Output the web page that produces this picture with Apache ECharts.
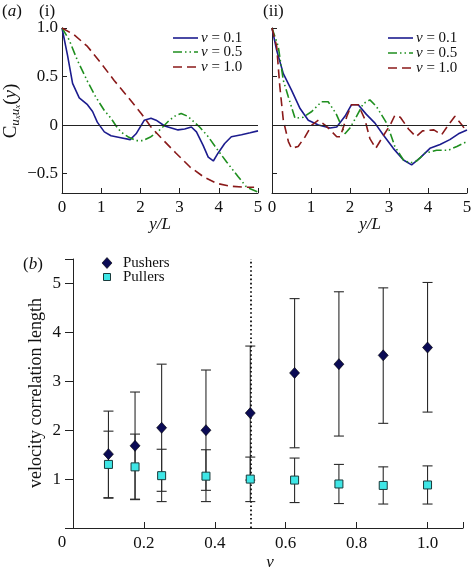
<!DOCTYPE html>
<html><head><meta charset="utf-8">
<script src="https://cdn.jsdelivr.net/npm/echarts@6/dist/echarts.min.js"></script>
<style>html,body{margin:0;padding:0;background:#fff}#c{width:473px;height:577px}</style>
</head><body><div id="c"></div>
<script>
// ---------- Data ----------
// Panel (a)(i): pushers correlation functions C(y) vs y/L
const i_v01 = [[0,1.0],[0.14,0.72],[0.27,0.43],[0.44,0.28],[0.65,0.21],[0.78,0.14],[0.9,0.03],[1.08,-0.07],[1.25,-0.11],[1.5,-0.13],[1.74,-0.15],[1.89,-0.09],[2.1,0.05],[2.27,0.07],[2.4,0.05],[2.62,-0.01],[2.96,-0.05],[3.13,-0.04],[3.3,-0.02],[3.43,-0.07],[3.6,-0.21],[3.73,-0.33],[3.86,-0.37],[3.98,-0.29],[4.15,-0.19],[4.32,-0.12],[4.58,-0.1],[4.8,-0.08],[5.0,-0.06]];
const i_v05 = [[0,1.0],[0.18,0.88],[0.39,0.67],[0.65,0.45],[0.86,0.29],[1.08,0.15],[1.25,0.07],[1.38,-0.01],[1.5,-0.07],[1.68,-0.12],[1.89,-0.16],[2.06,-0.16],[2.27,-0.12],[2.44,-0.07],[2.57,-0.02],[2.74,0.05],[2.91,0.1],[3.04,0.12],[3.21,0.09],[3.51,-0.02],[3.73,-0.12],[3.94,-0.24],[4.2,-0.38],[4.49,-0.53],[4.71,-0.64],[5.0,-0.69]];
const i_v10 = [[0,1.0],[0.31,0.93],[0.65,0.81],[0.99,0.64],[1.33,0.46],[1.68,0.29],[2.02,0.12],[2.27,-0.02],[2.57,-0.15],[2.91,-0.29],[3.26,-0.43],[3.6,-0.53],[3.94,-0.6],[4.3,-0.63],[4.65,-0.64],[4.9,-0.64]];
// Panel (a)(ii)
const ii_v01 = [[0,1.0],[0.12,0.77],[0.29,0.53],[0.5,0.36],[0.72,0.17],[0.93,0.05],[1.19,0.0],[1.49,-0.03],[1.66,-0.02],[1.87,0.09],[2.04,0.21],[2.21,0.21],[2.42,0.11],[2.64,0.02],[2.85,-0.1],[3.11,-0.24],[3.37,-0.36],[3.58,-0.41],[3.79,-0.34],[4.05,-0.24],[4.31,-0.2],[4.56,-0.15],[4.78,-0.09],[5.0,-0.05]];
const ii_v05 = [[0,1.0],[0.16,0.81],[0.29,0.46],[0.42,0.29],[0.59,0.07],[0.8,0.08],[1.02,0.14],[1.27,0.24],[1.44,0.24],[1.64,0.12],[1.87,-0.09],[2.0,-0.03],[2.1,0.04],[2.34,0.22],[2.51,0.26],[2.68,0.19],[2.94,0.02],[3.15,-0.22],[3.37,-0.36],[3.54,-0.39],[3.71,-0.37],[3.92,-0.29],[4.22,-0.26],[4.52,-0.26],[4.74,-0.22],[5.0,-0.17]];
const ii_v10 = [[0,1.0],[0.12,0.81],[0.2,0.4],[0.29,0.05],[0.42,-0.17],[0.5,-0.24],[0.67,-0.22],[0.85,-0.12],[1.02,0.0],[1.19,0.05],[1.36,0.0],[1.49,-0.05],[1.66,-0.12],[1.75,-0.12],[1.92,0.09],[2.04,0.21],[2.21,0.21],[2.38,0.06],[2.51,-0.14],[2.66,-0.24],[2.87,-0.1],[3.03,0.0],[3.15,0.1],[3.29,0.08],[3.5,-0.04],[3.69,-0.12],[3.86,-0.06],[4.15,-0.05],[4.35,-0.1],[4.52,0.0],[4.69,0.09],[4.87,0.0],[5.0,-0.07]];
const aSeriesNames = ['0.1','0.5','1.0'];
const aYTicks = [-0.5, 0, 0.5, 1.0];
// Panel (b): velocity correlation length vs v
const vValues     = [0.1, 0.175, 0.25, 0.375, 0.5, 0.625, 0.75, 0.875, 1.0];
const pushers     = [1.51, 1.68, 2.05, 2.0, 2.35, 3.17, 3.35, 3.53, 3.69];
const pushersLow  = [0.61, 0.58, 0.75, 0.77, 0.98, 1.64, 1.88, 2.14, 2.37];
const pushersHigh = [2.39, 2.78, 3.35, 3.23, 3.72, 4.69, 4.83, 4.91, 5.02];
const pullers     = [1.3, 1.25, 1.07, 1.06, 1.0, 0.98, 0.9, 0.87, 0.88];
const pullersLow  = [0.62, 0.59, 0.54, 0.54, 0.54, 0.52, 0.5, 0.49, 0.49];
const pullersHigh = [1.98, 1.92, 1.61, 1.6, 1.45, 1.43, 1.3, 1.25, 1.27];
const vDivider = 0.5;

// ---------- Styles ----------
const SERIF = 'Liberation Serif';
const BLUE = '#1c1c8e', GREEN = '#1f8f1f', RED = '#8a1a1a';
const DASHDOT = [9,3,1.5,3,1.5,3];
const DASH = [9,5];
const AX = '#222';

const chart = echarts.init(document.getElementById('c'), null, {renderer:'canvas'});

function fmtA(v){ if (Math.abs(v) < 1e-9) return '0'; const s = Math.abs(v).toFixed(1); return (v<0?'\u2212':'') + s; }

function aYAxis(idx, showLabels){
  return {
    type:'value', gridIndex: idx, min:-0.7, max:1.0,
    axisLine:{show:true, onZero:false, lineStyle:{color:AX, width:1}},
    axisTick:{show:true, inside:true, length:5, customValues: aYTicks, lineStyle:{color:AX}},
    axisLabel:{show:showLabels, customValues: aYTicks, formatter: fmtA, fontFamily:SERIF, fontSize:17, color:'#111', margin:4},
    splitLine:{show:false}
  };
}
function aXAxis(idx){
  return {
    type:'value', gridIndex: idx, min:0, max:5, interval:1,
    axisLine:{show:true, onZero:false, lineStyle:{color:AX, width:1}},
    axisTick:{show:true, inside:true, length:5, lineStyle:{color:AX}},
    axisLabel:{fontFamily:SERIF, fontSize:17, color:'#111', margin:6},
    splitLine:{show:false}
  };
}
function lineSeries(idx, data, color, type, withZero){
  const s = {
    type:'line', xAxisIndex: idx, yAxisIndex: idx, data: data,
    symbol:'none', smooth:false, silent:true, animation:false,
    lineStyle:{color:color, width:1.6, type:type}
  };
  if (withZero){
    s.markLine = {silent:true, symbol:['none','none'], label:{show:false},
      lineStyle:{color:'#222', width:1, type:'solid'}, data:[{yAxis:0}], animation:false};
  }
  return s;
}

const errPush = vValues.map((v,i)=>[v, pushersLow[i], pushersHigh[i]]);
const errPull = vValues.map((v,i)=>[v, pullersLow[i], pullersHigh[i]]);
function errRender(params, api){
  const x = api.value(0), lo = api.value(1), hi = api.value(2);
  const pLo = api.coord([x, lo]), pHi = api.coord([x, hi]);
  const w = 5;
  const st = {stroke:'#2a2a2a', lineWidth:1.1};
  return {type:'group', children:[
    {type:'line', shape:{x1:pLo[0], y1:pLo[1], x2:pHi[0], y2:pHi[1]}, style:st},
    {type:'line', shape:{x1:pLo[0]-w, y1:pLo[1], x2:pLo[0]+w, y2:pLo[1]}, style:st},
    {type:'line', shape:{x1:pHi[0]-w, y1:pHi[1], x2:pHi[0]+w, y2:pHi[1]}, style:st}
  ]};
}

function legendA(x0, ys){
  const els = [];
  const cols = [BLUE, GREEN, RED], types = [null, DASHDOT, DASH];
  for (let k=0;k<3;k++){
    els.push({type:'line', shape:{x1:x0, y1:ys[k], x2:x0+25, y2:ys[k]},
      style:{stroke:cols[k], lineWidth:1.6, lineDash:types[k]}});
    els.push({type:'text', x:x0+28, y:ys[k], style:{
      text:'{i|v} = '+aSeriesNames[k], verticalAlign:'middle', align:'left',
      font:'15px '+SERIF, fill:'#111',
      rich:{i:{fontStyle:'italic', fontFamily:SERIF, fontSize:15, fill:'#111'}}}});
  }
  return els;
}

const graphics = [
  {type:'text', x:2, y:12, style:{text:'({i|a})', font:'17px '+SERIF, fill:'#111', verticalAlign:'middle', rich:{i:{fontStyle:'italic', fontSize:17, fontFamily:SERIF}}}},
  {type:'text', x:39, y:12, style:{text:'(i)', font:'17px '+SERIF, fill:'#111', verticalAlign:'middle'}},
  {type:'text', x:263, y:12, style:{text:'(ii)', font:'17px '+SERIF, fill:'#111', verticalAlign:'middle'}},
  // y-axis title panel a
  {type:'text', x:11, y:111, rotation:Math.PI/2, style:{
    text:'{c|C}{s|u}{ss|x}{s|u}{ss|x}{c|(}{ci|y}{c|)}', align:'center', verticalAlign:'middle',
    rich:{
      c:{fontFamily:SERIF, fontSize:19, fill:'#111'},
      ci:{fontFamily:SERIF, fontStyle:'italic', fontSize:19, fill:'#111'},
      s:{fontFamily:SERIF, fontStyle:'italic', fontSize:13, fill:'#111', verticalAlign:'bottom', padding:[8,0,0,0]},
      ss:{fontFamily:SERIF, fontStyle:'italic', fontSize:9, fill:'#111', verticalAlign:'bottom', padding:[14,0,0,0]}
    }}},
  {type:'text', x:160, y:225, style:{text:'y/L', font:'italic 17px '+SERIF, fill:'#111', align:'center', verticalAlign:'middle'}},
  {type:'text', x:370, y:225, style:{text:'y/L', font:'italic 17px '+SERIF, fill:'#111', align:'center', verticalAlign:'middle'}},
  // panel b
  {type:'text', x:23, y:265, style:{text:'({i|b})', font:'17px '+SERIF, fill:'#111', verticalAlign:'middle', rich:{i:{fontStyle:'italic', fontSize:17, fontFamily:SERIF}}}},
  {type:'text', x:36, y:393, rotation:Math.PI/2, style:{text:'velocity correlation length', font:'18px '+SERIF, fill:'#111', align:'center', verticalAlign:'middle'}},
  {type:'text', x:62, y:543, style:{text:'0', font:'17px '+SERIF, fill:'#111', align:'center', verticalAlign:'middle'}},
  {type:'text', x:270, y:563, style:{text:'v', font:'italic 17px '+SERIF, fill:'#111', align:'center', verticalAlign:'middle'}},
  // legend b
  {type:'polygon', shape:{points:[[107,257.5],[112,263],[107,268.5],[102,263]]}, style:{fill:'#0b0b55', stroke:'#000', lineWidth:0.6}},
  {type:'text', x:123, y:263, style:{text:'Pushers', font:'15px '+SERIF, fill:'#111', verticalAlign:'middle'}},
  {type:'rect', shape:{x:103.5, y:273.5, width:7, height:7}, style:{fill:'#3ee6e6', stroke:'#1a3a3a', lineWidth:1}},
  {type:'text', x:123, y:277, style:{text:'Pullers', font:'15px '+SERIF, fill:'#111', verticalAlign:'middle'}}
].concat(legendA(173, [38,52,67])).concat(legendA(388, [38,53,68]));

const option = {
  animation:false,
  backgroundColor:'#fff',
  grid:[
    {left:62, top:28, width:196, height:165, containLabel:false, outerBoundsMode:'none'},
    {left:272, top:28, width:195, height:165, containLabel:false, outerBoundsMode:'none'},
    {left:73, top:259, width:390, height:269, containLabel:false, outerBoundsMode:'none'}
  ],
  xAxis:[
    aXAxis(0), aXAxis(1),
    {type:'value', gridIndex:2, min:0, max:1.1, interval:0.2,
      axisLine:{show:true, onZero:false, lineStyle:{color:AX, width:1}},
      axisTick:{show:true, inside:true, length:6, lineStyle:{color:AX}},
      axisLabel:{fontFamily:SERIF, fontSize:17, color:'#111', margin:7,
        formatter:(v)=> (v < 1e-9 || v > 1.05) ? '' : v.toFixed(1)},
      splitLine:{show:false}}
  ],
  yAxis:[
    aYAxis(0, true), aYAxis(1, false),
    {type:'value', gridIndex:2, min:0, max:5.5, interval:1,
      axisLine:{show:true, onZero:false, lineStyle:{color:AX, width:1}},
      axisTick:{show:true, inside:false, length:8, lineStyle:{color:AX}},
      axisLabel:{fontFamily:SERIF, fontSize:17, color:'#111', margin:12,
        formatter:(v)=> (v < 1e-9 || v > 5.2) ? '' : String(v)},
      splitLine:{show:false}}
  ],
  series:[
    lineSeries(0, i_v01, BLUE, 'solid', true),
    lineSeries(0, i_v05, GREEN, DASHDOT, false),
    lineSeries(0, i_v10, RED, DASH, false),
    lineSeries(1, ii_v01, BLUE, 'solid', true),
    lineSeries(1, ii_v05, GREEN, DASHDOT, false),
    lineSeries(1, ii_v10, RED, DASH, false),
    {type:'custom', xAxisIndex:2, yAxisIndex:2, data: errPush, renderItem: errRender, silent:true, z:2,
      markLine:{silent:true, symbol:['none','none'], label:{show:false},
        lineStyle:{color:'#111', width:1.8, type:[1.6,2.6]}, data:[{xAxis:vDivider}], animation:false}},
    {type:'custom', xAxisIndex:2, yAxisIndex:2, data: errPull, renderItem: errRender, silent:true, z:2},
    {type:'scatter', name:'Pushers', xAxisIndex:2, yAxisIndex:2, z:5, silent:true,
      data: vValues.map((v,i)=>[v, pushers[i]]), symbol:'diamond', symbolSize:[10,11],
      itemStyle:{color:'#0b0b55', borderColor:'#000', borderWidth:0.6, opacity:1}},
    {type:'scatter', name:'Pullers', xAxisIndex:2, yAxisIndex:2, z:5, silent:true,
      data: vValues.map((v,i)=>[v, pullers[i]]), symbol:'rect', symbolSize:8,
      itemStyle:{color:'#3ee6e6', borderColor:'#1a3a3a', borderWidth:1, opacity:1}}
  ],
  graphic: graphics
};
chart.setOption(option);
</script>
</body></html>
